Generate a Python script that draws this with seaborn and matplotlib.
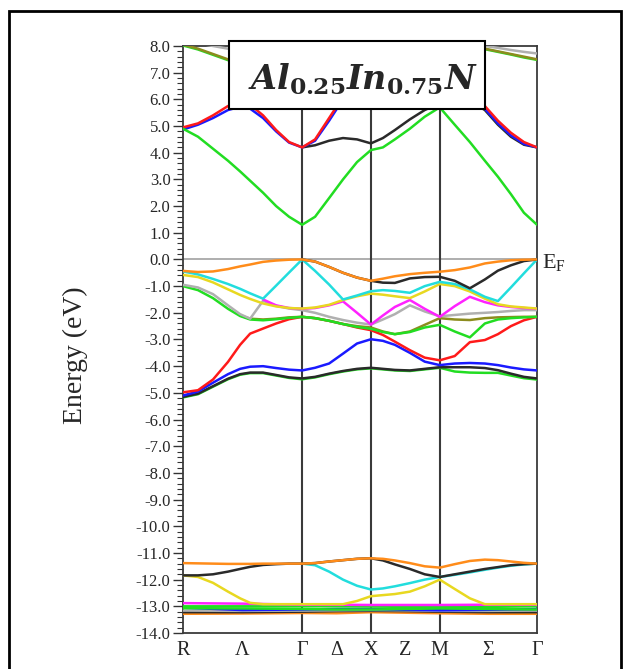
import numpy as np
import pandas as pd
import matplotlib
matplotlib.use("Agg")
import matplotlib.pyplot as plt
import matplotlib.transforms as mtransforms
from matplotlib.patches import Rectangle
from matplotlib.ticker import MultipleLocator, FormatStrFormatter
import seaborn as sns

sns.set_style("white")
plt.rcParams['font.family'] = ['Liberation Serif', 'DejaVu Serif']
plt.rcParams['axes.unicode_minus'] = False
plt.rcParams['mathtext.fontset'] = 'custom'
plt.rcParams['mathtext.rm'] = 'Liberation Serif'
plt.rcParams['mathtext.it'] = 'DejaVu Serif:italic:bold'
plt.rcParams['mathtext.bf'] = 'DejaVu Serif:bold'

# ---------------- data ----------------
# high-symmetry path R - Γ - X - M - Γ (path length units)
k_sym = [0.000, 0.433, 0.866, 1.116, 1.366, 1.616, 1.866, 2.2195, 2.573]
k_labels = ['R', 'Λ', 'Γ', 'Δ', 'X', 'Z', 'M', 'Σ', 'Γ']

# sampling along the path
k_path = [0.000, 0.109, 0.218, 0.327, 0.415, 0.488, 0.582, 0.677, 0.771, 0.866,
          0.960, 1.062, 1.163, 1.265, 1.366,
          1.453, 1.540, 1.649, 1.757, 1.866,
          1.975, 2.085, 2.194, 2.289, 2.383, 2.478, 2.573]
k_from_gamma = k_path[9:]
k_olive = k_path[4:]
k_magenta = k_path[6:]

# conduction bands (eV)
cb_top_gray = [8.2, 8.1, 8.0, 7.9, 7.85, 7.82, 7.8, 7.8, 7.8, 7.8,
               7.9, 8.0, 8.1, 8.2, 8.3, 8.3, 8.3, 8.3, 8.3, 8.3,
               8.3, 8.2, 8.0, 7.93, 7.85, 7.78, 7.72]
cb_top_green = [8.02, 7.87, 7.67, 7.47, 7.42, 7.4, 7.4, 7.43, 7.46, 7.48,
                7.58, 7.78, 7.98, 8.18, 8.3, 8.3, 8.3, 8.3, 8.3, 8.3,
                8.3, 8.2, 7.88, 7.78, 7.68, 7.57, 7.48]
cb_top_olive = [8.05, 7.9, 7.7, 7.5, 7.45, 7.42, 7.42, 7.45, 7.48, 7.5,
                7.6, 7.8, 8.0, 8.2, 8.3, 8.3, 8.3, 8.3, 8.3, 8.3,
                8.3, 8.2, 7.9, 7.8, 7.7, 7.6, 7.5]
cb_black = [4.2, 4.28, 4.45, 4.55, 4.5, 4.35, 4.55, 4.85, 5.25, 5.6, 5.85,
            6.15, 5.95, 5.6, 5.05, 4.6, 4.3, 4.2]
cb_blue = [4.87, 5.05, 5.3, 5.6, 5.72, 5.65, 5.3, 4.8, 4.38, 4.2,
           4.45, 5.2, 6.0, 6.7, 7.2, 7.1, 6.9, 6.6, 6.3, 6.1,
           6.2, 6.0, 5.65, 5.1, 4.65, 4.33, 4.2]
cb_red = [4.95, 5.1, 5.4, 5.75, 5.9, 5.8, 5.4, 4.85, 4.4, 4.2,
          4.5, 5.3, 6.1, 6.8, 7.3, 7.2, 7.0, 6.7, 6.4, 6.2,
          6.3, 6.1, 5.75, 5.2, 4.75, 4.4, 4.2]
cb_green = [4.9, 4.6, 4.15, 3.7, 3.3, 2.95, 2.5, 2.0, 1.6, 1.3,
            1.6, 2.3, 3.0, 3.65, 4.1, 4.2, 4.5, 4.9, 5.35, 5.7,
            5.05, 4.4, 3.7, 3.1, 2.45, 1.75, 1.3]

# valence bands (eV)
vb_green_low = [-5.17, -5.05, -4.77, -4.49, -4.32, -4.26, -4.26, -4.35, -4.44, -4.49,
                -4.42, -4.3, -4.2, -4.12, -4.08, -4.12, -4.16, -4.18, -4.12, -4.06,
                -4.2, -4.24, -4.25, -4.25, -4.35, -4.45, -4.5]
vb_black_low = [-5.15, -5.03, -4.75, -4.47, -4.3, -4.24, -4.24, -4.33, -4.42, -4.46,
                -4.4, -4.28, -4.18, -4.1, -4.06, -4.1, -4.14, -4.16, -4.1, -4.04,
                -4.04, -4.04, -4.07, -4.15, -4.28, -4.4, -4.46]
vb_blue = [-5.1, -4.95, -4.62, -4.3, -4.1, -4.02, -4.0, -4.07, -4.13, -4.16,
           -4.06, -3.9, -3.53, -3.15, -2.99, -3.05, -3.2, -3.5, -3.83, -3.96,
           -3.9, -3.88, -3.9, -3.96, -4.05, -4.12, -4.16]
vb_red = [-4.98, -4.9, -4.5, -3.84, -3.2, -2.78, -2.59, -2.4, -2.24, -2.15,
          -2.2, -2.3, -2.42, -2.55, -2.65, -2.83, -3.08, -3.4, -3.68, -3.78,
          -3.62, -3.1, -3.02, -2.8, -2.5, -2.28, -2.15]
vb_olive = [-2.1, -2.22, -2.25, -2.22, -2.17, -2.15,
            -2.2, -2.3, -2.42, -2.5, -2.55, -2.7, -2.8, -2.7, -2.45, -2.2,
            -2.25, -2.27, -2.2, -2.17, -2.16, -2.15, -2.15]
vb_green = [-1.0, -1.15, -1.45, -1.85, -2.12, -2.25, -2.28, -2.24, -2.19, -2.15,
            -2.2, -2.3, -2.42, -2.53, -2.6, -2.72, -2.8, -2.72, -2.55, -2.45,
            -2.7, -2.92, -2.4, -2.25, -2.2, -2.17, -2.15]
vb_gray = [-0.95, -1.05, -1.3, -1.72, -2.05, -2.22, -1.55, -1.74, -1.84, -1.9,
           -2.0, -2.15, -2.27, -2.37, -2.44, -2.25, -2.05, -1.72, -1.95, -2.13,
           -2.08, -2.03, -2.0, -1.97, -1.93, -1.9, -1.9]
vb_magenta = [-1.5, -1.72, -1.82, -1.85,
              -1.82, -1.72, -1.57, -2.0, -2.44, -2.1, -1.78, -1.52, -1.85, -2.15,
              -1.75, -1.4, -1.6, -1.72, -1.78, -1.82, -1.85]
vb_yellow = [-0.58, -0.66, -0.86, -1.12, -1.33, -1.48, -1.65, -1.76, -1.82, -1.84,
             -1.8, -1.7, -1.52, -1.38, -1.28, -1.32, -1.38, -1.45, -1.2, -0.92,
             -1.0, -1.2, -1.47, -1.68, -1.76, -1.8, -1.84]
vb_cyan = [-0.45, -0.56, -0.73, -0.92, -1.1, -1.27, -1.47, -0.98, -0.49, 0.0,
           -0.43, -0.94, -1.5, -1.35, -1.19, -1.15, -1.18, -1.25, -1.0, -0.84,
           -0.92, -1.12, -1.4, -1.56, -1.05, -0.52, 0.0]
vb_black_up = [0.0, -0.08, -0.28, -0.5, -0.68, -0.8, -0.87, -0.88, -0.71, -0.66, -0.65,
               -0.8, -1.08, -0.75, -0.42, -0.22, -0.06, 0.0]
vb_orange = [-0.43, -0.47, -0.45, -0.36, -0.26, -0.19, -0.09, -0.04, -0.01, 0.0,
             -0.08, -0.28, -0.5, -0.68, -0.8, -0.72, -0.63, -0.55, -0.5, -0.46,
             -0.4, -0.3, -0.15, -0.08, -0.03, -0.01, 0.0]

# semi-core bands (eV)
sc_orange = [-11.38, -11.39, -11.4, -11.41, -11.41, -11.41, -11.4, -11.4, -11.4, -11.4,
             -11.38, -11.32, -11.27, -11.22, -11.2, -11.22, -11.28, -11.38, -11.5, -11.55,
             -11.42, -11.3, -11.25, -11.27, -11.32, -11.37, -11.4]
sc_black = [-11.84, -11.84, -11.8, -11.7, -11.6, -11.52, -11.45, -11.42, -11.4, -11.4,
            -11.38, -11.32, -11.27, -11.22, -11.2, -11.28, -11.43, -11.6, -11.8, -11.9,
            -11.8, -11.7, -11.6, -11.53, -11.46, -11.42, -11.4]
sc_cyan = [-11.4, -11.46, -11.7, -12.0, -12.23, -12.37, -12.33, -12.25, -12.13, -12.0, -11.9,
           -11.82, -11.73, -11.63, -11.55, -11.48, -11.43, -11.4]
sc_yellow = [-11.84, -11.9, -12.12, -12.45, -12.7, -12.87, -12.92, -12.92, -12.92, -12.92,
             -12.92, -12.92, -12.92, -12.8, -12.62, -12.58, -12.54, -12.45, -12.25, -12.0,
             -12.35, -12.7, -12.92, -12.92, -12.92, -12.92, -12.92]
sc_magenta = [-12.88, -12.9, -12.94, -12.94, -12.95, -12.95, -12.95, -12.94, -12.94]
sc_green = [-13.0, -13.0, -13.0, -13.0, -13.01, -13.02, -13.03, -13.02, -13.0]
sc_green2 = [-13.07, -13.08, -13.1, -13.12, -13.12, -13.1, -13.08, -13.1, -13.12]
sc_blue = [-13.05, -13.14, -13.12, -13.1, -13.1, -13.13, -13.15, -13.13, -13.1]
sc_gray = [-13.16, -13.17, -13.16, -13.15, -13.14, -13.15, -13.17, -13.17, -13.16]
sc_black2 = [-13.22, -13.22, -13.2, -13.18, -13.17, -13.18, -13.2, -13.22, -13.22]
sc_orange2 = [-13.28, -13.27, -13.25, -13.26, -13.22, -13.24, -13.26, -13.28, -13.28]

# ---------------- table ----------------
RED, BLUE, GREEN, BLACK = '#ff1a1a', '#1a1aff', '#22dd22', '#2a2a2a'
GRAY, ORANGE, CYAN, YELLOW = '#b0b0b0', '#ff8c1a', '#22dddd', '#e8d820'
MAGENTA, OLIVE = '#ff22ff', '#8c8c1e'

specs = [
    ('cb_top_gray', k_path, cb_top_gray, GRAY),
    ('cb_top_green', k_path, cb_top_green, GREEN),
    ('cb_top_olive', k_path, cb_top_olive, OLIVE),
    ('cb_black', k_from_gamma, cb_black, BLACK),
    ('cb_blue', k_path, cb_blue, BLUE),
    ('cb_red', k_path, cb_red, RED),
    ('cb_green', k_path, cb_green, GREEN),
    ('vb_green_low', k_path, vb_green_low, GREEN),
    ('vb_black_low', k_path, vb_black_low, BLACK),
    ('vb_blue', k_path, vb_blue, BLUE),
    ('vb_red', k_path, vb_red, RED),
    ('vb_olive', k_olive, vb_olive, OLIVE),
    ('vb_green', k_path, vb_green, GREEN),
    ('vb_gray', k_path, vb_gray, GRAY),
    ('vb_magenta', k_magenta, vb_magenta, MAGENTA),
    ('vb_yellow', k_path, vb_yellow, YELLOW),
    ('vb_cyan', k_path, vb_cyan, CYAN),
    ('vb_black_up', k_from_gamma, vb_black_up, BLACK),
    ('vb_orange', k_path, vb_orange, ORANGE),
    ('sc_orange2', k_sym, sc_orange2, ORANGE),
    ('sc_black2', k_sym, sc_black2, BLACK),
    ('sc_gray', k_sym, sc_gray, GRAY),
    ('sc_blue', k_sym, sc_blue, BLUE),
    ('sc_green2', k_sym, sc_green2, GREEN),
    ('sc_green', k_sym, sc_green, GREEN),
    ('sc_magenta', k_sym, sc_magenta, MAGENTA),
    ('sc_yellow', k_path, sc_yellow, YELLOW),
    ('sc_cyan', k_from_gamma, sc_cyan, CYAN),
    ('sc_black', k_path, sc_black, BLACK),
    ('sc_orange', k_path, sc_orange, ORANGE),
]
rows = []
for name, kk, ee, _ in specs:
    for kv, ev in zip(kk, ee):
        rows.append((name, kv, ev))
df = pd.DataFrame(rows, columns=['band', 'k', 'E'])
palette = {name: col for name, _, _, col in specs}
order = [name for name, _, _, _ in specs]

# ---------------- figure ----------------
fig = plt.figure(figsize=(6.25, 6.69), dpi=100)
W, H = 625.0, 669.0
ax = fig.add_axes([183 / W, 1 - 633 / H, (537 - 183) / W, (633 - 46) / H])

ax.axhline(0, color='#a8a8a8', lw=1.3, zorder=1)
for kv in (k_sym[2], k_sym[4], k_sym[6]):
    ax.axvline(kv, color='#3a3a3a', lw=1.5, zorder=2)

sns.lineplot(data=df, x='k', y='E', hue='band', hue_order=order, palette=palette,
             estimator=None, sort=False, legend=False, linewidth=1.8, ax=ax, zorder=3)

ax.set_xlim(k_sym[0], k_sym[-1])
ax.set_ylim(-14, 8)
ax.set_xticks(k_sym)
ax.set_xticklabels(k_labels, fontsize=14.5)
ax.tick_params(axis='x', length=0, pad=6)
ax.set_xlabel('')
ax.yaxis.set_major_locator(MultipleLocator(1.0))
ax.yaxis.set_minor_locator(MultipleLocator(0.2))
ax.yaxis.set_major_formatter(FormatStrFormatter('%.1f'))
ax.tick_params(axis='y', which='major', left=True, direction='out', length=7,
               width=1.0, color='#333333', labelsize=12, pad=2)
ax.tick_params(axis='y', which='minor', left=True, direction='out', length=4,
               width=0.8, color='#333333')
ax.set_ylabel('Energy (eV)', fontsize=20)
ax.yaxis.set_label_coords(-0.268, 0.474)
for s in ax.spines.values():
    s.set_color('#3a3a3a')
    s.set_linewidth(1.3)

trans = mtransforms.blended_transform_factory(ax.transAxes, ax.transData)
ax.text(1.014, -0.32, r'$\mathrm{E_F}$', transform=trans, fontsize=16,
        ha='left', va='baseline')

# title box
fig.add_artist(Rectangle((229 / W, 1 - 109 / H), (485 - 229) / W, (109 - 41) / H,
                         transform=fig.transFigure, facecolor='white',
                         edgecolor='black', lw=1.5, zorder=5))
fig.text(363 / W, 1 - 79 / H, r'$Al_{\mathbf{0.25}}In_{\mathbf{0.75}}N$',
         ha='center', va='center', fontsize=24, zorder=6)

# outer frame
fig.add_artist(Rectangle((9 / W, -0.05), (621 - 9) / W, 1.05 - 11 / H,
                         transform=fig.transFigure, fill=False,
                         edgecolor='black', lw=2.0, zorder=0))

fig.savefig('out.png', dpi=100)
